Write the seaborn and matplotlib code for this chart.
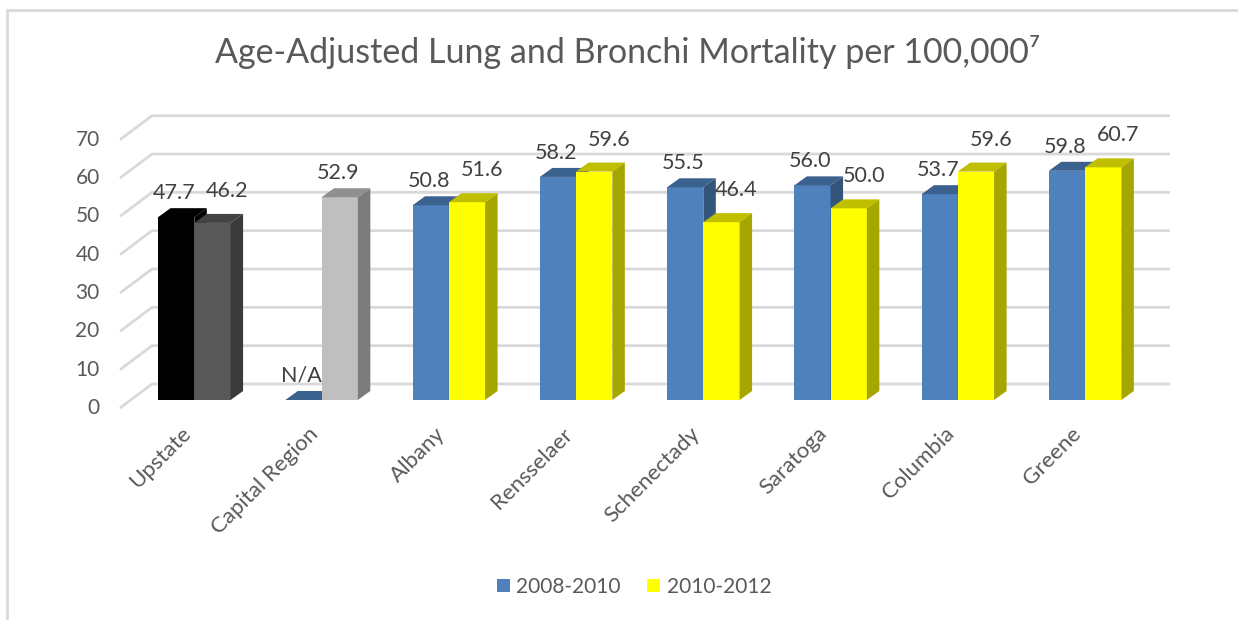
import numpy as np
import pandas as pd
import matplotlib
matplotlib.use("Agg")
import matplotlib.pyplot as plt
import matplotlib.colors as mcolors
from matplotlib.patches import Polygon, Patch, Rectangle
from matplotlib.transforms import ScaledTranslation
import seaborn as sns

# data
regions = ["Upstate", "Capital Region", "Albany", "Rensselaer",
           "Schenectady", "Saratoga", "Columbia", "Greene"]
periods = ["2008-2010", "2010-2012"]
rate_2008_2010 = [47.7, np.nan, 50.8, 58.2, 55.5, 56.0, 53.7, 59.8]
rate_2010_2012 = [46.2, 52.9, 51.6, 59.6, 46.4, 50.0, 59.6, 60.7]
y_ticks = [0, 10, 20, 30, 40, 50, 60, 70]

# colours
BLUE = "#4F81BD"
YELLOW = "#FFFF00"
GRID = "#D9D9D9"
TEXT = "#595959"
override_colors = {
    ("Upstate", "2008-2010"): "#000000",
    ("Upstate", "2010-2012"): "#595959",
    ("Capital Region", "2010-2012"): "#BFBFBF",
}

df = pd.DataFrame({
    "region": regions * 2,
    "period": [periods[0]] * len(regions) + [periods[1]] * len(regions),
    "rate": rate_2008_2010 + rate_2010_2012,
})
df["plot_rate"] = df["rate"].fillna(0)

sns.set_style("white")
plt.rcParams["font.family"] = ["Lato", "DejaVu Sans"]

W, H = 1238, 620
fig = plt.figure(figsize=(W / 100, H / 100), dpi=100)
# axes = front plane of the bars (pixel box)
ax_left, ax_right, ax_base, ax_top = 130.7, 1148.7, 400, 131.7
ax = fig.add_axes([ax_left / W, 1 - ax_base / H, (ax_right - ax_left) / W, (ax_base - ax_top) / H])

sns.barplot(data=df, x="region", y="plot_rate", hue="period", order=regions,
            hue_order=periods, palette=[BLUE, YELLOW], width=0.57, gap=0,
            saturation=1, linewidth=0, legend=False, ax=ax)
ax.set_xlim(-0.5, 7.5)
ax.set_ylim(0, 70)
for s in ax.spines.values():
    s.set_visible(False)
ax.set_xlabel("")
ax.set_ylabel("")
ax.set_yticks([])
ax.tick_params(length=0)


def px(dx, dy):
    # pixel offset -> data offset
    inv = ax.transData.inverted()
    p0 = ax.transData.transform((0, 0))
    return inv.transform(p0 + np.array([dx, dy])) - inv.transform(p0)


bar_d = px(12.5, 9)       # depth of a bar
back_d = px(21.3, 16)     # back wall offset
front_d = px(-10.7, -8)   # front edge offset

# back wall + left wall grid
for v in y_ticks:
    xs = [-0.5 + front_d[0], -0.5 + back_d[0], 7.5 + back_d[0]]
    ys = [v + front_d[1], v + back_d[1], v + back_d[1]]
    ax.plot(xs, ys, color=GRID, lw=2, zorder=1, clip_on=False, solid_capstyle="butt")
    ax.text(-0.5 + front_d[0] - 0.16, v + front_d[1], str(v), ha="right", va="center",
            fontsize=15, color=TEXT)


def shade(c, k):
    r, g, b = mcolors.to_rgb(c)
    return (r * k, g * k, b * k)


# 3D faces and labels
for k, cont in enumerate(ax.containers):
    period = periods[k]
    values = rate_2008_2010 if k == 0 else rate_2010_2012
    for j, bar in enumerate(cont):
        region = regions[j]
        front = override_colors.get((region, period), BLUE if k == 0 else YELLOW)
        x0, w, h = bar.get_x(), bar.get_width(), bar.get_height()
        z = 3 + k * 0.3
        bar.set_facecolor(front)
        bar.set_zorder(z)
        top = Polygon([(x0, h), (x0 + w, h), (x0 + w + bar_d[0], h + bar_d[1]),
                       (x0 + bar_d[0], h + bar_d[1])], closed=True,
                      facecolor=shade(front, 0.75), edgecolor="none", zorder=z + 0.1, clip_on=False)
        side = Polygon([(x0 + w, 0), (x0 + w + bar_d[0], bar_d[1]),
                        (x0 + w + bar_d[0], h + bar_d[1]), (x0 + w, h)], closed=True,
                       facecolor=shade(front, 0.65), edgecolor="none", zorder=z + 0.1, clip_on=False)
        ax.add_patch(top)
        ax.add_patch(side)

        v = values[j]
        label = "N/A" if np.isnan(v) else f"{v:.1f}"
        if k == 0 or np.isnan(rate_2008_2010[j]):
            off = (-1.4, 13)
        else:
            off = (10.8, 18.7)
        ax.annotate(label, xy=(x0 + w / 2, h), xytext=off, textcoords="offset points",
                    ha="center", va="baseline", fontsize=15.5, color="#404040",
                    zorder=6, annotation_clip=False)

ax.set_xticks(range(len(regions)))
ax.set_xticklabels(regions, rotation=45, ha="right", rotation_mode="anchor",
                   fontsize=16, color=TEXT)
ax.tick_params(axis="x", pad=17)
shift = ScaledTranslation(-14 / 100, 0, fig.dpi_scale_trans)
for lab in ax.get_xticklabels():
    lab.set_transform(lab.get_transform() + shift)

fig.text(628 / W, 1 - 63 / H, "Age-Adjusted Lung and Bronchi Mortality per 100,000\u2077",
         ha="center", va="baseline", fontsize=24.5, color=TEXT)

handles = [Patch(facecolor=BLUE, edgecolor="none"), Patch(facecolor=YELLOW, edgecolor="none")]
fig.legend(handles, periods, loc="center", bbox_to_anchor=(634 / W, 1 - 587 / H), ncol=2,
           frameon=False, fontsize=15, handlelength=0.62, handleheight=0.62,
           handletextpad=0.3, columnspacing=1.3, labelcolor=TEXT)

# chart border
fig.add_artist(Rectangle((7 / W, -0.1), 1.2, 1 - 10 / H + 0.1, transform=fig.transFigure,
                         fill=False, edgecolor=GRID, lw=2))

fig.savefig("out.png", dpi=100)
